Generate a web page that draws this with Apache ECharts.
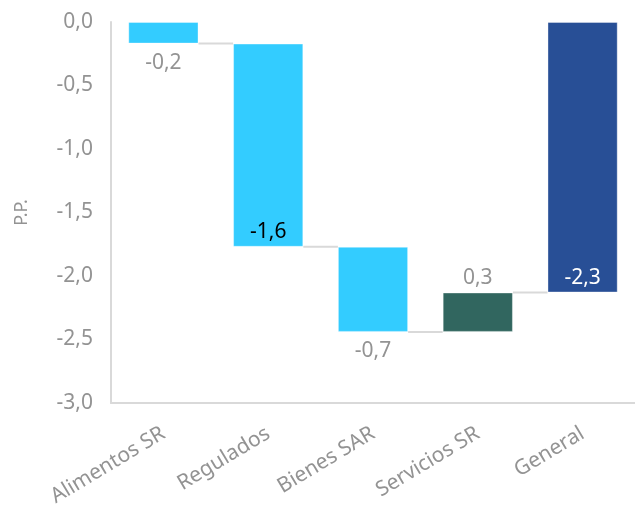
<!DOCTYPE html>
<html>
<head>
<meta charset="utf-8">
<script src="https://cdn.jsdelivr.net/npm/echarts@6/dist/echarts.min.js"></script>
<style>
  html, body { margin: 0; padding: 0; background: #fff; }
  #chart { width: 635px; height: 510px; }
</style>
</head>
<body>
<div id="chart"></div>
<script>
const categories = ['Alimentos SR', 'Regulados', 'Bienes SAR', 'Servicios SR', 'General']
const startValues = [0, -0.17, -1.77, -2.44, 0]
const endValues = [-0.17, -1.77, -2.44, -2.13, -2.13]
const valueLabels = ['-0,2', '-1,6', '-0,7', '0,3', '-2,3']

const colors = ['#33ccff', '#33ccff', '#33ccff', '#31665f', '#284f96']
const labelPos = ['bottom', 'insideBottom', 'bottom', 'top', 'insideBottom']
const labelDist = [9, 4, 9, 4, 4]
const labelColor = ['#939393', '#000000', '#939393', '#939393', '#ffffff']

const FONT = 'Noto Sans'

const base = startValues.map((s, i) => Math.max(s, endValues[i]))
const span = startValues.map((s, i) => Math.min(s, endValues[i]) - base[i])

const chart = echarts.init(document.getElementById('chart'))
chart.setOption({
  animation: false,
  grid: { left: 111, right: -4, top: 22, bottom: 107 },
  xAxis: {
    type: 'category',
    data: categories,
    axisLine: { onZero: false, lineStyle: { color: '#d9d9d9', width: 2 } },
    axisTick: { show: false },
    axisLabel: {
      rotate: 31,
      color: '#939393',
      fontFamily: FONT,
      fontSize: 21,
      margin: 29
    }
  },
  yAxis: {
    type: 'value',
    min: -3,
    max: 0,
    interval: 0.5,
    name: 'P.P.',
    nameLocation: 'middle',
    nameGap: 80,
    nameTextStyle: { color: '#939393', fontFamily: FONT, fontSize: 18 },
    axisLine: { show: true, lineStyle: { color: '#d9d9d9', width: 2 } },
    axisTick: { show: false },
    splitLine: { show: false },
    axisLabel: {
      color: '#939393',
      fontFamily: FONT,
      fontSize: 21,
      margin: 18,
      formatter: v => v.toFixed(1).replace('.', ',')
    }
  },
  series: [
    {
      type: 'bar',
      stack: 'w',
      barWidth: '67%',
      itemStyle: { color: 'transparent' },
      data: base
    },
    {
      type: 'bar',
      stack: 'w',
      barWidth: '67%',
      data: span.map((v, i) => ({
        value: v,
        itemStyle: { color: colors[i], borderColor: 'rgba(255,255,255,0.35)', borderWidth: 1 },
        label: {
          show: true,
          position: labelPos[i],
          distance: labelDist[i],
          color: labelColor[i],
          fontFamily: FONT,
          fontSize: 21,
          formatter: () => valueLabels[i]
        }
      }))
    },
    {
      type: 'custom',
      data: endValues.slice(0, -1).map((v, i) => [i, v]),
      renderItem: (params, api) => {
        const i = api.value(0)
        const p1 = api.coord([i, api.value(1)])
        const p2 = api.coord([i + 1, api.value(1)])
        const half = api.size([1, 0])[0] * 0.335
        return {
          type: 'line',
          shape: { x1: p1[0] + half, y1: p1[1], x2: p2[0] - half, y2: p2[1] },
          style: { stroke: '#d9d9d9', lineWidth: 2 }
        }
      },
      z: 1
    }
  ]
})
</script>
</body>
</html>
